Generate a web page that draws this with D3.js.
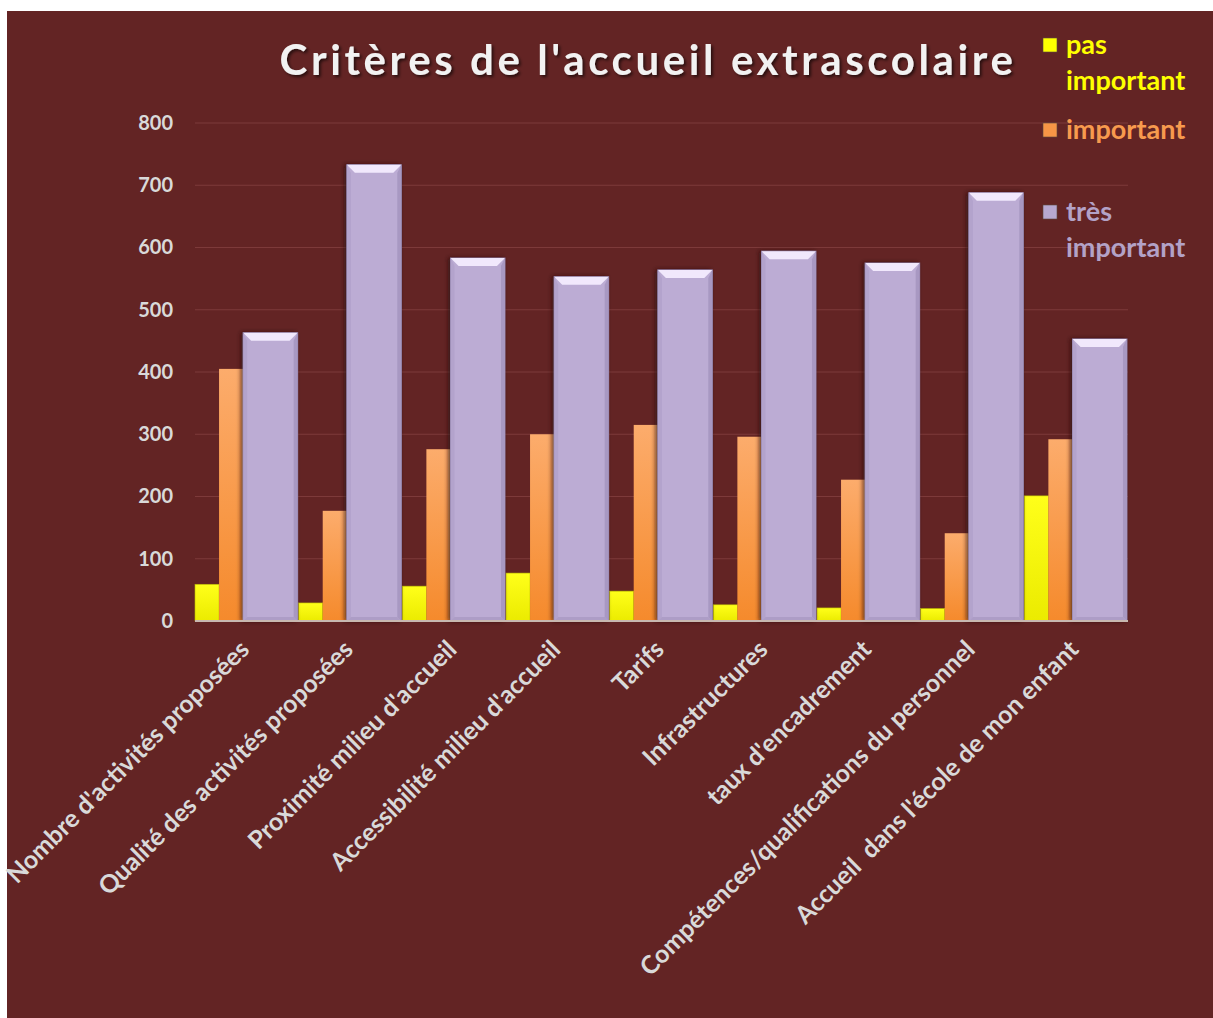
<!DOCTYPE html>
<html>
<head>
<meta charset="utf-8">
<script src="https://cdn.jsdelivr.net/npm/d3@7"></script>
<style>
  body { margin: 0; background: #ffffff; }
  text { font-family: Lato, "Open Sans", sans-serif; font-weight: bold; }
</style>
</head>
<body>
<svg id="chart" width="1213" height="1018"></svg>
<script>
// data
const categories = [
  "Nombre d'activités proposées",
  "Qualité des activités proposées",
  "Proximité milieu d'accueil",
  "Accessibilité milieu d'accueil",
  "Tarifs",
  "Infrastructures",
  "taux d'encadrement",
  "Compétences/qualifications du personnel",
  "Accueil  dans l'école de mon enfant"
];
const pasImportant = [59, 29, 56, 77, 48, 26, 21, 20, 201];
const important = [405, 177, 276, 300, 315, 296, 227, 141, 292];
const tresImportant = [463, 733, 583, 553, 564, 594, 575, 688, 453];
const yTicks = [0, 100, 200, 300, 400, 500, 600, 700, 800];

const seriesNames = ["pas important", "important", "très important"];

const svg = d3.select('#chart');
const W = 1213, H = 1018;
const margin = {left: 195, right: 85, top: 123, bottom: 397};

// background
svg.append('rect').attr('x', 7).attr('y', 11).attr('width', W - 7).attr('height', H - 11).attr('fill', '#632424');

// defs: gradients + shadow
const defs = svg.append('defs');
const gY = defs.append('linearGradient').attr('id', 'gYellow').attr('x1', 0).attr('y1', 0).attr('x2', 0).attr('y2', 1);
gY.append('stop').attr('offset', '0%').attr('stop-color', '#ffff1a');
gY.append('stop').attr('offset', '100%').attr('stop-color', '#ebeb00');
const gO = defs.append('linearGradient').attr('id', 'gOrange').attr('x1', 0).attr('y1', 0).attr('x2', 0).attr('y2', 1);
gO.append('stop').attr('offset', '0%').attr('stop-color', '#fcac6c');
gO.append('stop').attr('offset', '100%').attr('stop-color', '#f58a2c');
const shadow = defs.append('filter').attr('id', 'shadow').attr('x', '-30%').attr('y', '-10%').attr('width', '160%').attr('height', '120%');
shadow.append('feDropShadow').attr('dx', -2).attr('dy', 0).attr('stdDeviation', 2).attr('flood-color', '#2a0a0a').attr('flood-opacity', 0.7);
const tshadow = defs.append('filter').attr('id', 'tshadow');
tshadow.append('feDropShadow').attr('dx', 2).attr('dy', 2).attr('stdDeviation', 1.5).attr('flood-color', '#000').attr('flood-opacity', 0.6);

// scales
const x = d3.scaleBand().domain(categories).range([margin.left, W - margin.right]).paddingInner(0).paddingOuter(0);
const y = d3.scaleLinear().domain([0, 800]).range([H - margin.bottom, margin.top]);
// sub-positions within a category (fractions of band)
const sub = d3.scaleOrdinal().domain(seriesNames).range([[0, 0.232], [0.232, 0.465], [0.465, 0.99]]);

// gridlines
svg.append('g').selectAll('line').data(yTicks.filter(d => d > 0)).join('line')
  .attr('x1', margin.left).attr('x2', W - margin.right)
  .attr('y1', d => y(d)).attr('y2', d => y(d))
  .attr('stroke', '#7d3a3a').attr('stroke-width', 1.2);

// y axis
const yAxis = svg.append('g').attr('transform', `translate(${margin.left},0)`)
  .call(d3.axisLeft(y).tickValues(yTicks).tickSize(0).tickPadding(22));
yAxis.select('.domain').remove();
yAxis.selectAll('text').attr('font-size', 20).attr('fill', '#d9d9d9').attr('font-family', 'Lato, sans-serif').attr('font-weight', 'bold');

// bars
const rows = categories.map((c, i) => ({c, v: [pasImportant[i], important[i], tresImportant[i]]}));
const bw = x.bandwidth();

function subX(c, s) { return x(c) + sub(s)[0] * bw; }
function subW(s) { return (sub(s)[1] - sub(s)[0]) * bw; }

const gBars = svg.append('g');
// yellow
gBars.selectAll('rect.yel').data(rows).join('rect').attr('class', 'yel')
  .attr('x', d => subX(d.c, seriesNames[0])).attr('width', subW(seriesNames[0]))
  .attr('y', d => y(d.v[0])).attr('height', d => y(0) - y(d.v[0]))
  .attr('fill', 'url(#gYellow)').attr('stroke', '#b8b800').attr('stroke-width', 0.6);
// orange
gBars.selectAll('rect.ora').data(rows).join('rect').attr('class', 'ora')
  .attr('x', d => subX(d.c, seriesNames[1])).attr('width', subW(seriesNames[1]))
  .attr('y', d => y(d.v[1])).attr('height', d => y(0) - y(d.v[1]))
  .attr('fill', 'url(#gOrange)');
// purple with bevel
const pg = gBars.selectAll('g.pur').data(rows).join('g').attr('class', 'pur');
const pw = subW(seriesNames[2]);
const bev = 8;
pg.append('rect')
  .attr('x', d => subX(d.c, seriesNames[2])).attr('width', pw)
  .attr('y', d => y(d.v[2])).attr('height', d => y(0) - y(d.v[2]))
  .attr('fill', '#bcacd4').attr('stroke', '#8f7fa8').attr('stroke-width', 1)
  .attr('filter', 'url(#shadow)');
// top bevel
pg.append('polygon').attr('points', d => {
  const x0 = subX(d.c, seriesNames[2]), y0 = y(d.v[2]);
  return [[x0, y0], [x0 + pw, y0], [x0 + pw - bev, y0 + bev], [x0 + bev, y0 + bev]].join(' ');
}).attr('fill', '#f1e8fc');
// side bevels
pg.append('polygon').attr('points', d => {
  const x0 = subX(d.c, seriesNames[2]), y0 = y(d.v[2]), y1 = y(0);
  return [[x0, y0], [x0 + 4, y0 + bev], [x0 + 4, y1 - 4], [x0, y1]].join(' ');
}).attr('fill', '#b3a3cc');
pg.append('polygon').attr('points', d => {
  const x0 = subX(d.c, seriesNames[2]) + pw, y0 = y(d.v[2]), y1 = y(0);
  return [[x0, y0], [x0 - 4, y0 + bev], [x0 - 4, y1 - 4], [x0, y1]].join(' ');
}).attr('fill', '#a898c2');
pg.append('polygon').attr('points', d => {
  const x0 = subX(d.c, seriesNames[2]), y1 = y(0);
  return [[x0, y1], [x0 + 4, y1 - 4], [x0 + pw - 4, y1 - 4], [x0 + pw, y1]].join(' ');
}).attr('fill', '#ad9dc6');

// baseline
svg.append('line').attr('x1', margin.left).attr('x2', W - margin.right)
  .attr('y1', y(0)).attr('y2', y(0)).attr('stroke', '#c8b8b0').attr('stroke-width', 2);

// x labels
svg.append('g').selectAll('text').data(categories).join('text')
  .attr('transform', d => `translate(${x(d) + bw / 2 + 4},${y(0) + 30}) rotate(-45)`)
  .attr('text-anchor', 'end').attr('font-size', 25).attr('fill', '#d9d9d9')
  .attr('xml:space', 'preserve').style('white-space', 'pre')
  .text(d => d);

// title
svg.append('text').attr('x', 648).attr('y', 75).attr('text-anchor', 'middle')
  .attr('font-size', 42).attr('letter-spacing', 3.6).attr('fill', '#f2f2f2')
  .attr('filter', 'url(#tshadow)')
  .text("Critères de l'accueil extrascolaire");

// legend
const legend = [
  {name: seriesNames[0], lines: ['pas', 'important'], color: '#ffff00', sw: '#ffff00', y: 45},
  {name: seriesNames[1], lines: ['important'], color: '#f79a4e', sw: '#f79646', y: 130},
  {name: seriesNames[2], lines: ['très', 'important'], color: '#b3a2c7', sw: '#b7a8d0', y: 212}
];
const lg = svg.append('g').selectAll('g').data(legend).join('g');
lg.append('rect').attr('x', 1043).attr('y', d => d.y - 7).attr('width', 14).attr('height', 14)
  .attr('fill', d => d.sw).attr('stroke', '#5a4a40').attr('stroke-width', 0.6);
lg.each(function(d) {
  const g = d3.select(this);
  d.lines.forEach((t, i) => {
    g.append('text').attr('x', 1066).attr('y', d.y + 9 + i * 36)
      .attr('font-size', 27).attr('fill', d.color).text(t);
  });
});
</script>
</body>
</html>
